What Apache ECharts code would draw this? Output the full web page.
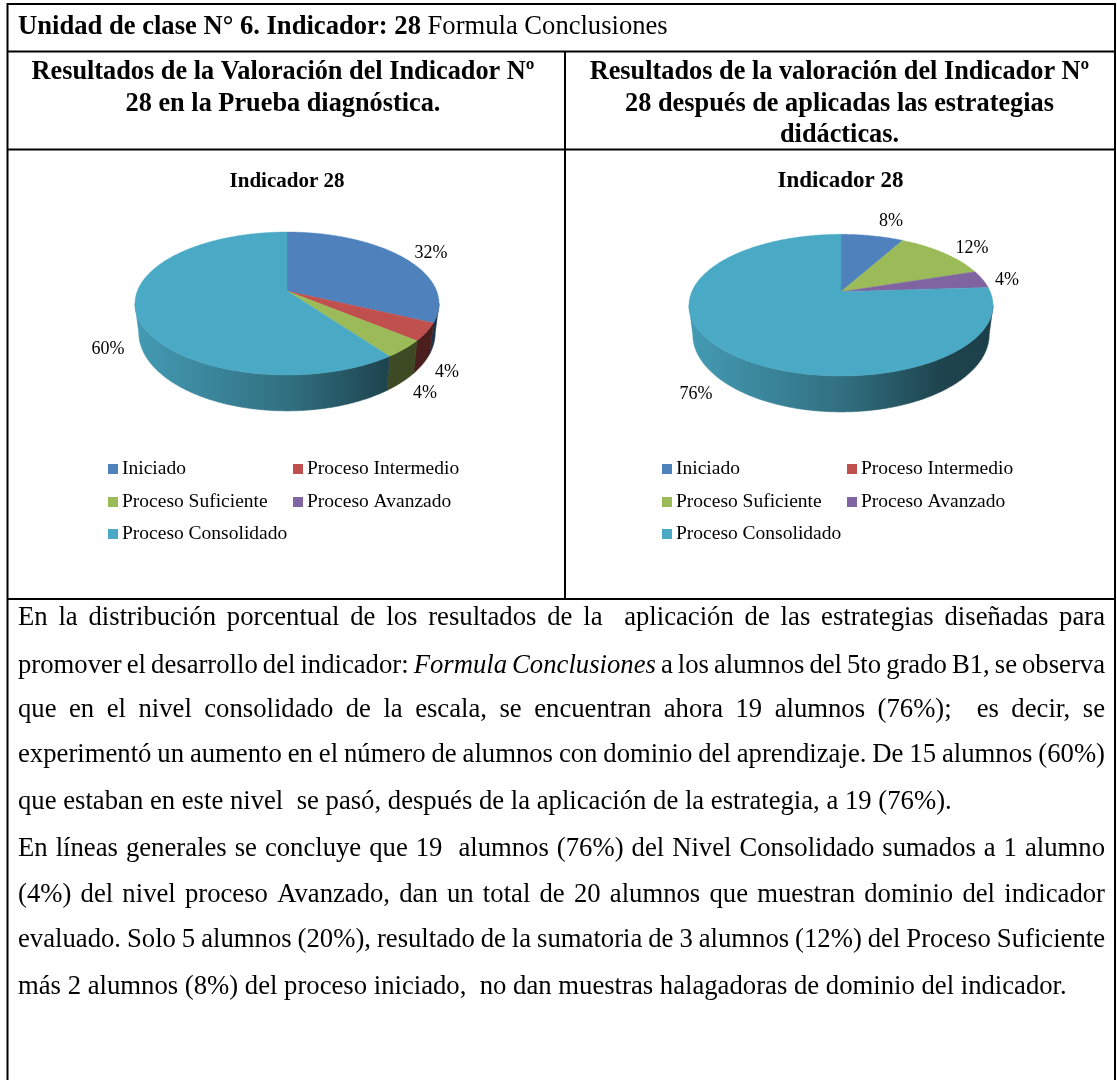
<!DOCTYPE html>
<html>
<head>
<meta charset="utf-8">
<style>html,body{margin:0;padding:0;background:#fff}#c{width:1117px;height:1080px}</style>
<script src="https://cdn.jsdelivr.net/npm/echarts@6/dist/echarts.min.js"></script>
</head>
<body>
<div id="c"></div>
<script>
const categories = ['Iniciado', 'Proceso Intermedio', 'Proceso Suficiente', 'Proceso Avanzado', 'Proceso Consolidado'];
const valuesDiagnostic = [32, 4, 4, 0, 60];
const valuesAfter = [8, 0, 12, 4, 76];
const colors = ['#4F81BD', '#C0504D', '#9BBB59', '#8064A2', '#4AA9C4'];
const chartTitle = 'Indicador 28';
const headerBold = 'Unidad de clase N° 6. Indicador: 28';
const headerPlain = 'Formula Conclusiones';
const leftHeading = ['Resultados de la Valoración del Indicador Nº', '28 en la Prueba diagnóstica.'];
const rightHeading = ['Resultados de la valoración del Indicador Nº', '28 después de aplicadas las estrategias', 'didácticas.'];
const paragraph = [
  'En la distribución porcentual de los resultados de la  aplicación de las estrategias diseñadas para',
  'promover el desarrollo del indicador: Formula Conclusiones a los alumnos del 5to grado B1, se observa',
  'que en el nivel consolidado de la escala, se encuentran ahora 19 alumnos (76%);  es decir, se',
  'experimentó un aumento en el número de alumnos con dominio del aprendizaje. De 15 alumnos (60%)',
  'que estaban en este nivel  se pasó, después de la aplicación de la estrategia, a 19 (76%).',
  'En líneas generales se concluye que 19  alumnos (76%) del Nivel Consolidado sumados a 1 alumno',
  '(4%) del nivel proceso Avanzado, dan un total de 20 alumnos que muestran dominio del indicador',
  'evaluado. Solo 5 alumnos (20%), resultado de la sumatoria de 3 alumnos (12%) del Proceso Suficiente',
  'más 2 alumnos (8%) del proceso iniciado,  no dan muestras halagadoras de dominio del indicador.'
];
const justifiedLines = [true, true, true, true, false, true, true, true, false];
const italicWords = ['Formula', 'Conclusiones'];
const italicLine = 1;

// layout
const SERIF = '"Liberation Serif", "Times New Roman", serif';
const lineBaselines = [621, 669, 713, 758, 805, 852, 898, 943, 990];
const pies = [
  { values: valuesDiagnostic, cx: 287, apexY: 291, topH: 59, botH: 84, rx: 152,
    labels: [[431, 253], [447, 372], [425, 393], null, [108, 349]], legendX: 108, titleX: 287, titleSize: 21, titleTop: 171 },
  { values: valuesAfter, cx: 841, apexY: 291.7, topH: 57.4, botH: 84.3, rx: 152,
    labels: [[891, 221], null, [972, 248], [1007, 280], [696, 394]], legendX: 662, titleX: 840.5, titleSize: 23, titleTop: 170 }
];
const wallDepth = 28;
const wallScaleX = 0.975;
const wallScaleY = 1.094;
const legendRows = [[0, 0, 468], [1, 185, 468], [2, 0, 501], [3, 185, 501], [4, 0, 533]];

function project(p, a) {
  const k = (p.botH - p.topH) / (p.botH + p.topH);
  const A = p.topH * (1 + k);
  const B = p.rx * Math.sqrt(1 - k * k);
  const X = Math.sin(a), Y = -Math.cos(a);
  const d = 1 - k * Y;
  return [p.cx + B * X / d, p.apexY + A * Y / d];
}
function arc(p, a0, a1) {
  const n = Math.max(2, Math.ceil(Math.abs(a1 - a0) / 0.01));
  const pts = [];
  for (let i = 0; i <= n; i++) pts.push(project(p, a0 + (a1 - a0) * i / n));
  return pts;
}
function shade(hex, f) {
  const n = parseInt(hex.slice(1), 16);
  return 'rgb(' + [(n >> 16) & 255, (n >> 8) & 255, n & 255].map(c => Math.round(c * f)).join(',') + ')';
}
function makeRender(p, i) {
  return function (params, api) {
    const v = api.value(0), before = api.value(1);
    const children = [];
    if (v <= 0) return { type: 'group', children };
    const a0 = before / 100 * 2 * Math.PI, a1 = (before + v) / 100 * 2 * Math.PI;
    const k = (p.botH - p.topH) / (p.botH + p.topH);
    const lo = Math.acos(-k), hi = 2 * Math.PI - lo;
    const w0 = Math.max(a0, lo), w1 = Math.min(a1, hi);
    if (w1 > w0) {
      const top = arc(p, w0, w1);
      const bot = top.map(q => [p.cx + (q[0] - p.cx) * wallScaleX, p.apexY + wallDepth + (q[1] - p.apexY) * wallScaleY]).reverse();
      const grad = new echarts.graphic.LinearGradient(p.cx - p.rx, 0, p.cx + p.rx, 0, [
        { offset: 0, color: shade(colors[i], 0.92) },
        { offset: 0.5, color: shade(colors[i], 0.66) },
        { offset: 0.83, color: shade(colors[i], 0.4) },
        { offset: 1, color: shade(colors[i], 0.38) }
      ], true);
      children.push({
        type: 'polygon', shape: { points: top.concat(bot) },
        style: { fill: grad, stroke: grad, lineWidth: 0.6 }, silent: true
      });
    }
    children.push({
      type: 'polygon', shape: { points: [[p.cx, p.apexY]].concat(arc(p, a0, a1)) },
      style: { fill: colors[i], stroke: colors[i], lineWidth: 0.4 }, silent: true
    });
    const l = p.labels[i];
    if (l) children.push({
      type: 'text', x: l[0], y: l[1],
      style: { text: v + '%', font: '18px ' + SERIF, fill: '#000', textAlign: 'center', textVerticalAlign: 'middle' }
    });
    return { type: 'group', children };
  };
}

const series = [];
pies.forEach(p => {
  let cum = 0;
  categories.forEach((name, i) => {
    series.push({
      type: 'custom', name, coordinateSystem: 'none', silent: true,
      itemStyle: { color: colors[i] },
      renderItem: makeRender(p, i),
      data: [[p.values[i], cum]]
    });
    cum += p.values[i];
  });
});

const legends = [];
pies.forEach(p => legendRows.forEach(r => legends.push({
  data: [categories[r[0]]], left: p.legendX + r[1], top: r[2] - 9, padding: 0, itemWidth: 10, itemHeight: 10, itemGap: 0,
  icon: 'rect', selectedMode: false, textStyle: { fontFamily: SERIF, fontSize: 19.5, color: '#000', padding: [0, 0, 0, -1], height: 18, lineHeight: 18 }
})));

const ctx = document.createElement('canvas').getContext('2d');
function widthOf(t, font) { ctx.font = font; return ctx.measureText(t).width; }
const graphics = [];
function line(x1, y1, x2, y2) {
  graphics.push({ type: 'line', shape: { x1, y1, x2, y2 }, style: { stroke: '#000', lineWidth: 2 }, silent: true });
}
function text(t, x, baseline, font, size, align) {
  graphics.push({ type: 'text', x, y: baseline - size * 0.1, silent: true,
    style: { text: t, font, fill: '#000', textAlign: align || 'left', textVerticalAlign: 'middle' } });
}
// table rules
line(7.5, 4, 1115, 4); line(7.5, 3, 7.5, 1080); line(1115, 3, 1115, 1080);
line(7.5, 51.5, 1115, 51.5); line(7.5, 149.5, 1115, 149.5); line(7.5, 599, 1115, 599); line(565, 51.5, 565, 599);

// header row
const HS = 26.6;
const HB = 'bold ' + HS + 'px ' + SERIF, HR = HS + 'px ' + SERIF;
text(headerBold, 18, 30, HB, HS);
text(headerPlain, 18 + widthOf(headerBold + ' ', HB), 30, HR, HS);
const H2S = 26.3;
const H2 = 'bold ' + H2S + 'px ' + SERIF;
leftHeading.forEach((t, i) => text(t, 283, 75 + i * 31.5, H2, H2S, 'center'));
rightHeading.forEach((t, i) => text(t, 839.5, 75 + i * 31.5, H2, H2S, 'center'));

// paragraph: justified word by word
const PS = 26.7;
const PF = PS + 'px ' + SERIF, PI = 'italic ' + PS + 'px ' + SERIF;
const LEFT = 18, RIGHT = 1105;
paragraph.forEach((ln, li) => {
  const tokens = ln.split(' ');
  const words = [], gaps = [];
  let pend = 0;
  tokens.forEach(t => {
    if (t === '') { pend++; return; }
    if (words.length) gaps.push(1 + pend);
    pend = 0; words.push(t);
  });
  const fontOf = w => (li === italicLine && italicWords.includes(w)) ? PI : PF;
  const total = words.reduce((s, w) => s + widthOf(w, fontOf(w)), 0);
  const units = gaps.reduce((s, g) => s + g, 0);
  const sp = justifiedLines[li] ? (RIGHT - LEFT - total) / units : widthOf(' ', PF);
  let x = LEFT;
  words.forEach((w, i) => {
    text(w, x, lineBaselines[li], fontOf(w), PS);
    x += widthOf(w, fontOf(w)) + (i < gaps.length ? gaps[i] * sp : 0);
  });
});

const chart = echarts.init(document.getElementById('c'));
chart.setOption({
  animation: false,
  backgroundColor: '#fff',
  title: pies.map(p => ({
    text: chartTitle, left: p.titleX, top: p.titleTop, textAlign: 'center', padding: 0,
    textStyle: { fontFamily: SERIF, fontSize: p.titleSize, fontWeight: 'bold', color: '#000' }
  })),
  legend: legends,
  series,
  graphic: { elements: graphics }
});
</script>
</body>
</html>
